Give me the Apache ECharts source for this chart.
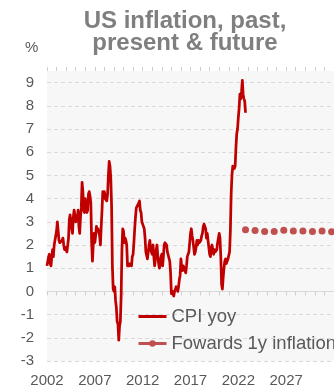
<!DOCTYPE html>
<html>
<head>
<meta charset="utf-8">
<script src="https://cdn.jsdelivr.net/npm/echarts@6/dist/echarts.min.js"></script>
<style>
  html, body { margin: 0; padding: 0; background: #ffffff; }
  #chart { width: 334px; height: 390px; }
</style>
</head>
<body>
<div id="chart"></div>
<script>
// US CPI, year-on-year %, monthly from Jan 2002 to Oct 2022
const cpiStartYear = 2002;
const cpiYoy = [
  1.1, 1.1, 1.5, 1.6, 1.2, 1.1, 1.5, 1.8, 1.5, 2.0, 2.2, 2.4,   // 2002
  2.6, 3.0, 3.0, 2.2, 2.1, 2.1, 2.1, 2.2, 2.3, 2.0, 1.8, 1.9,   // 2003
  1.9, 1.7, 1.7, 2.3, 3.1, 3.3, 3.0, 2.7, 2.5, 3.2, 3.5, 3.3,   // 2004
  3.0, 3.0, 3.1, 3.5, 2.8, 2.5, 3.2, 3.6, 4.7, 4.3, 3.5, 3.4,   // 2005
  4.0, 3.6, 3.4, 3.5, 4.2, 4.3, 4.1, 3.8, 2.1, 1.3, 2.0, 2.5,   // 2006
  2.1, 2.4, 2.8, 2.6, 2.7, 2.7, 2.4, 2.0, 2.8, 3.5, 4.3, 4.1,   // 2007
  4.3, 4.0, 4.0, 3.9, 4.2, 5.0, 5.6, 5.4, 4.9, 3.7, 1.1, 0.1,   // 2008
  0.0, 0.2, -0.4, -0.7, -1.3, -1.4, -2.1, -1.5, -1.3, -0.2, 1.8, 2.7, // 2009
  2.6, 2.1, 2.3, 2.2, 2.0, 1.1, 1.2, 1.1, 1.1, 1.2, 1.1, 1.5,   // 2010
  1.6, 2.1, 2.7, 3.2, 3.6, 3.6, 3.6, 3.8, 3.9, 3.5, 3.4, 3.0,   // 2011
  2.9, 2.9, 2.7, 2.3, 1.7, 1.7, 1.4, 1.7, 2.0, 2.2, 1.8, 1.7,   // 2012
  1.6, 2.0, 1.5, 1.1, 1.4, 1.8, 2.0, 1.5, 1.2, 1.0, 1.2, 1.5,   // 2013
  1.6, 1.1, 1.5, 2.0, 2.1, 2.1, 2.0, 1.7, 1.7, 1.7, 1.3, 0.8,   // 2014
  -0.1, 0.0, -0.1, -0.2, 0.0, 0.1, 0.2, 0.2, 0.0, 0.2, 0.5, 0.7, // 2015
  1.4, 1.0, 0.9, 1.1, 1.0, 1.0, 0.8, 1.1, 1.5, 1.6, 1.7, 2.1,   // 2016
  2.5, 2.7, 2.4, 2.2, 1.9, 1.6, 1.7, 1.9, 2.2, 2.0, 2.2, 2.1,   // 2017
  2.1, 2.2, 2.4, 2.5, 2.8, 2.9, 2.9, 2.7, 2.3, 2.5, 2.2, 1.9,   // 2018
  1.6, 1.5, 1.9, 2.0, 1.8, 1.6, 1.8, 1.7, 1.7, 1.8, 2.1, 2.3,   // 2019
  2.5, 2.3, 1.5, 0.3, 0.1, 0.6, 1.0, 1.3, 1.4, 1.2, 1.2, 1.4,   // 2020
  1.4, 1.7, 2.6, 4.2, 5.0, 5.4, 5.4, 5.3, 5.4, 6.2, 6.8, 7.0,   // 2021
  7.5, 7.9, 8.5, 8.3, 8.6, 9.1, 8.5, 8.3, 8.2, 7.7              // 2022
];

// Market-implied 1-year forward inflation, one point per year from Oct 2022
const fwdDates = [2022.75, 2023.75, 2024.75, 2025.75, 2026.75, 2027.75, 2028.75, 2029.75, 2030.75, 2031.75];
const fwdInflation = [2.66, 2.62, 2.58, 2.58, 2.64, 2.60, 2.60, 2.58, 2.60, 2.57];

const xYears = [2002, 2032];       // date axis range (years)
const xLabelStep = 5;
const yRange = [-3, 9.5];
const seriesNames = ['CPI yoy', 'Fowards 1y inflation'];
const titleLines = ['US inflation, past,', 'present & future'];
const unitLabel = '%';

const cpiPoints = cpiYoy.map((v, i) => [cpiStartYear + i / 12, v]);
const fwdPoints = fwdDates.map((d, i) => [d, fwdInflation[i]]);

const FONT = "'Liberation Sans', Arial, Helvetica, sans-serif";
const TEXT = '#595959';
const GRIDC = '#d9d9d9';

const gridBox = { left: 47, right: -1, top: 71, bottom: 29 };
const xBase = { type: 'value', min: xYears[0], max: xYears[1], interval: xLabelStep };
const tickStyle = { color: '#cfcfcf', width: 1 };

const chart = echarts.init(document.getElementById('chart'), null, { renderer: 'canvas' });
chart.setOption({
  animation: false,
  textStyle: { fontFamily: FONT },
  grid: [
    Object.assign({ show: true, backgroundColor: '#f7f7f7', borderWidth: 0 }, gridBox),
    Object.assign({ show: false }, gridBox)
  ],
  xAxis: [
    // zero line with ticks pointing down
    Object.assign({}, xBase, {
      gridIndex: 0, position: 'bottom',
      axisLine: { show: true, onZero: true, lineStyle: { color: GRIDC, width: 1 } },
      axisTick: { show: true, length: 4, lineStyle: tickStyle },
      minorTick: { show: true, splitNumber: 5, length: 4, lineStyle: tickStyle },
      axisLabel: { show: false },
      splitLine: { show: false }
    }),
    // same zero line, ticks pointing up
    Object.assign({}, xBase, {
      gridIndex: 0, position: 'top',
      axisLine: { show: false, onZero: true },
      axisTick: { show: true, length: 4, lineStyle: tickStyle },
      minorTick: { show: true, splitNumber: 5, length: 4, lineStyle: tickStyle },
      axisLabel: { show: false },
      splitLine: { show: false }
    }),
    // year labels along the bottom
    Object.assign({}, xBase, {
      gridIndex: 1, position: 'bottom',
      axisLine: { show: false, onZero: false },
      axisTick: { show: false },
      splitLine: { show: false },
      axisLabel: {
        color: TEXT, fontSize: 15, fontFamily: FONT, margin: 12,
        showMaxLabel: false,
        formatter: v => String(v)
      }
    })
  ],
  yAxis: [
    {
      type: 'value', gridIndex: 0, min: yRange[0], max: yRange[1], interval: 1,
      axisLine: { show: false }, axisTick: { show: false },
      axisLabel: {
        color: TEXT, fontSize: 15, fontFamily: FONT, margin: 13,
        showMaxLabel: false,
        formatter: v => (Number.isInteger(v) ? String(v) : '')
      },
      splitLine: { show: true, showMaxLine: false, lineStyle: { color: GRIDC, type: [4, 3], width: 1 } }
    },
    {
      type: 'value', gridIndex: 1, min: yRange[0], max: yRange[1], interval: 1,
      show: false
    }
  ],
  legend: {
    left: 137, top: 307, orient: 'vertical', padding: 0,
    itemWidth: 28, itemHeight: 8, itemGap: 8,
    textStyle: { color: TEXT, fontSize: 18.5, fontFamily: FONT },
    data: [
      { name: seriesNames[0], itemStyle: { opacity: 0 }, lineStyle: { color: '#c00000', width: 3, opacity: 1 } },
      { name: seriesNames[1], lineStyle: { color: '#c0504d', width: 3, opacity: 1 }, itemStyle: { color: '#c0504d' } }
    ]
  },
  graphic: [
    { type: 'text', left: 25, top: 40, style: { text: unitLabel, font: '15px ' + FONT, fill: TEXT } },
    { type: 'text', x: 185, y: 21.5, style: { text: titleLines[0], font: 'bold 24px ' + FONT, fill: '#7f7f7f', textAlign: 'center', textVerticalAlign: 'middle' } },
    { type: 'text', x: 185, y: 43, style: { text: titleLines[1], font: 'bold 24px ' + FONT, fill: '#7f7f7f', textAlign: 'center', textVerticalAlign: 'middle' } }
  ],
  series: [
    {
      name: seriesNames[0], type: 'line', xAxisIndex: 0, yAxisIndex: 0,
      data: cpiPoints, showSymbol: false, symbol: 'none', clip: false, z: 3,
      lineStyle: { color: '#c00000', width: 2.75, join: 'round' },
      itemStyle: { color: '#c00000' }
    },
    {
      name: seriesNames[1], type: 'line', xAxisIndex: 0, yAxisIndex: 0,
      data: fwdPoints, symbol: 'circle', symbolSize: 7, showSymbol: true, z: 4,
      lineStyle: { opacity: 0, width: 0 },
      itemStyle: { color: '#c0504d' }
    }
  ]
});
</script>
</body>
</html>
